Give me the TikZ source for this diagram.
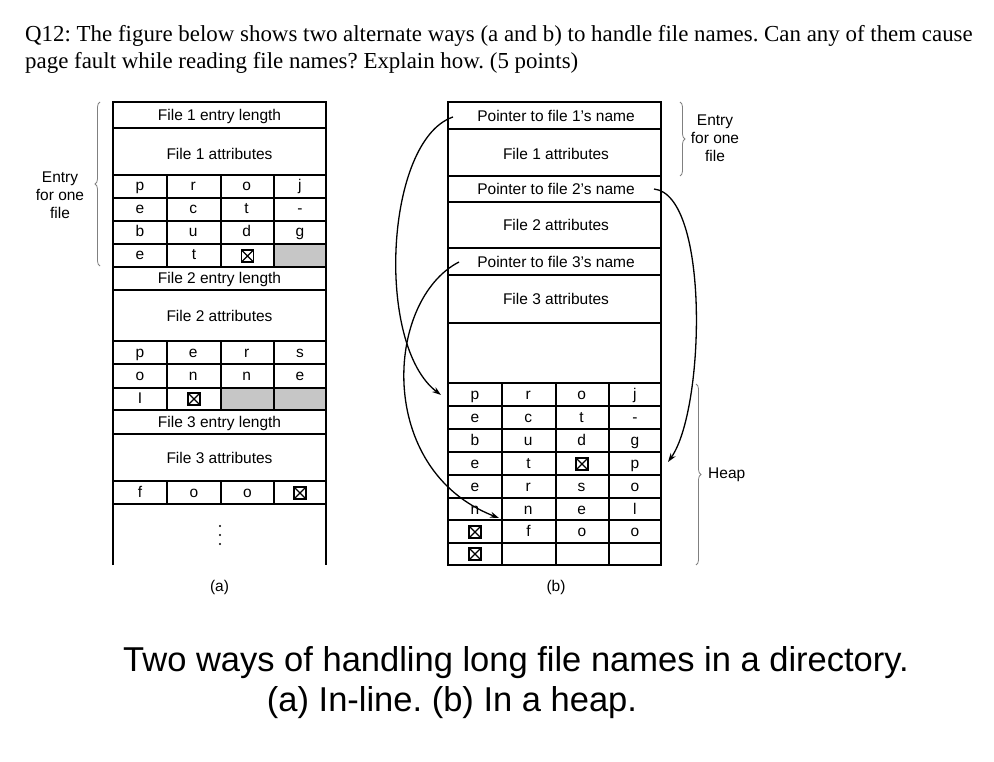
\documentclass[tikz,border=0pt]{standalone}
\usepackage{fontspec}
\setmainfont{Liberation Sans}
\newfontfamily\serifq{Liberation Serif}
\usetikzlibrary{decorations.pathreplacing,arrows.meta}
\begin{document}
\frenchspacing
\begin{tikzpicture}[x=1pt,y=-1pt,
  grid/.style={line width=1.6pt},
  lbl/.style={inner sep=0pt,font=\fontsize{15.5}{18}\selectfont},
  xbox/.style={draw,line width=1.3pt,minimum size=12pt,inner sep=0pt,
    path picture={\draw[line width=1.1pt](path picture bounding box.south west)--(path picture bounding box.north east)
      (path picture bounding box.north west)--(path picture bounding box.south east);}},
  ptr/.style={line width=1.3pt,-{Stealth[length=9pt,width=6pt]}},
  brace/.style={decorate,decoration={brace,amplitude=5pt},draw=gray,line width=0.8pt}]
\useasboundingbox (0,0) rectangle (994,762);
\node[anchor=west,align=left,inner sep=0pt,font=\serifq\fontsize{22.9}{27}\selectfont] (q) at (25,49)
 {Q12: The figure below shows two alternate ways (a and b) to handle file names. Can any of them cause\\page fault while reading file names? Explain how. (5 points)};
% ---------- (a)
\fill[gray!45] (274,244) rectangle (326,267);
\fill[gray!45] (221,388) rectangle (326,410);
\draw[grid] (113,565)--(113,102)--(326,102)--(326,565);
\foreach \y in {128,175,198,221,244,267,290,341,364,388,410,434,481,504}
  \draw[grid] (113,\y)--(326,\y);
\foreach \a/\b in {175/267,341/410,481/504}
  \foreach \x in {167,221,274} \draw[grid] (\x,\a)--(\x,\b);
\node[lbl] (a1) at (219.5,116) {File 1 entry length};
\node[lbl] (a2) at (219.5,154) {File 1 attributes};
\node[lbl] (a3) at (219.5,279) {File 2 entry length};
\node[lbl] (a4) at (219.5,316) {File 2 attributes};
\node[lbl] (a5) at (219.5,423) {File 3 entry length};
\node[lbl] (a6) at (219.5,458) {File 3 attributes};
\foreach \r/\row in {0/{p,r,o,j},1/{e,c,t,-},2/{b,u,d,g}}
  \foreach \c [count=\i from 0] in \row
    \node[lbl,anchor=base] at (140+53.3*\i,191+23*\r) {\c};
\node[lbl,anchor=base] at (140,260) {e};
\node[lbl,anchor=base] at (194,260) {t};
\node[xbox] (ax1) at (247.5,256) {};
\node[lbl,anchor=base] at (140,357) {p};
\node[lbl,anchor=base] at (193.3,357) {e};
\node[lbl,anchor=base] at (246.6,357) {r};
\node[lbl,anchor=base] at (300,357) {s};
\foreach \c [count=\i from 0] in {o,n,n,e}
  \node[lbl,anchor=base] at (140+53.3*\i,380) {\c};
\node[lbl,anchor=base] at (140,403) {I};
\node[xbox] (ax2) at (194,399) {};
\node[lbl,anchor=base] at (140,497) {f};
\node[lbl,anchor=base] at (194,497) {o};
\node[lbl,anchor=base] at (247.5,497) {o};
\node[xbox] (ax3) at (300,493) {};
\foreach \y in {526,535,544} \fill (220,\y) circle (1.2pt);
\node[lbl] (la) at (219.5,587) {(a)};
\draw[brace] (100,266)--(100,102);
\node[lbl,align=center] (ea) at (60,195) {Entry\\for one\\file};
% ---------- (b)
\draw[grid] (448,102) rectangle (661,565);
\foreach \y in {129,176,202,248,275,323,383,406,429,452,475,498,520,543}
  \draw[grid] (448,\y)--(661,\y);
\foreach \x in {502,556,609} \draw[grid] (\x,383)--(\x,565);
\node[lbl] (p1) at (556,116) {Pointer to file 1's name};
\node[lbl] (b1) at (556,154) {File 1 attributes};
\node[lbl] (p2) at (556,189) {Pointer to file 2's name};
\node[lbl] (b2) at (556,225) {File 2 attributes};
\node[lbl] (p3) at (556,262) {Pointer to file 3's name};
\node[lbl] (b3) at (556,299) {File 3 attributes};
\foreach \r/\row in {0/{p,r,o,j},1/{e,c,t,-},2/{b,u,d,g},4/{e,r,s,o},5/{n,n,e,l}}
  \foreach \c [count=\i from 0] in \row
    \node[lbl,anchor=base] at (475+53.3*\i,399+23*\r) {\c};
\node[lbl,anchor=base] at (475,468) {e};
\node[lbl,anchor=base] at (528.5,468) {t};
\node[xbox] (bx1) at (582,464) {};
\node[lbl,anchor=base] at (635,468) {p};
\node[xbox] (bx2) at (475,532) {};
\node[lbl,anchor=base] at (528.5,536) {f};
\node[lbl,anchor=base] at (582,536) {o};
\node[lbl,anchor=base] at (635,536) {o};
\node[xbox] (bx3) at (475,554) {};
\node[lbl] (lb) at (556,587) {(b)};
\draw[brace] (680,102)--(680,176);
\node[lbl,align=center] (eb) at (715,138) {Entry\\for one\\file};
\draw[brace] (696,384)--(696,565);
\node[lbl,anchor=west] (heap) at (708,475) {Heap};
\coordinate (s1) at (453,117); \coordinate (t1) at (441,395);
\coordinate (s2) at (654,189); \coordinate (t2) at (668,462);
\coordinate (s3) at (459,262); \coordinate (t3) at (499,518);
\draw[ptr] (s1) .. controls (385,140) and (375,345) .. (t1);
\draw[ptr] (s2) .. controls (710,195) and (705,410) .. (t2);
\draw[ptr] (s3) .. controls (385,300) and (375,470) .. (t3);
% caption
\node[anchor=base,inner sep=0pt,font=\fontsize{34.5}{40}\selectfont] (cap1) at (516,671)
 {Two ways of handling long file names in a directory.};
\node[anchor=base,inner sep=0pt,font=\fontsize{34.5}{40}\selectfont] (cap2) at (452,711)
 {(a) In-line. (b) In a heap.};
\end{tikzpicture}
\end{document}
